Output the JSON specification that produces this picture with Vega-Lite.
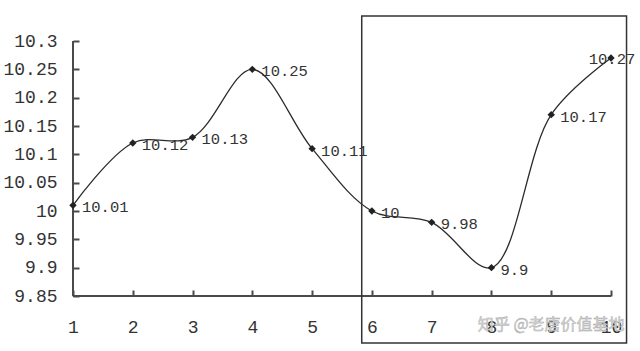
{
  "$schema": "https://vega.github.io/schema/vega-lite/v6.json",
  "autosize": {"type": "none"},
  "width": 538,
  "height": 255,
  "padding": {"left": 73, "top": 41, "right": 29, "bottom": 55},
  "background": "white",
  "datasets": {
    "series": [
      {"period": 1, "value": 10.01},
      {"period": 2, "value": 10.12},
      {"period": 3, "value": 10.13},
      {"period": 4, "value": 10.25},
      {"period": 5, "value": 10.11},
      {"period": 6, "value": 10.0},
      {"period": 7, "value": 9.98},
      {"period": 8, "value": 9.9},
      {"period": 9, "value": 10.17},
      {"period": 10, "value": 10.27}
    ],
    "highlight": [
      {"from": 5.83, "to": 10.26, "low": 9.767, "high": 10.344}
    ],
    "credit": [
      {"period": 9.0, "value": 9.798, "label": "知乎 @老唐价值基地"}
    ]
  },
  "config": {
    "view": {"stroke": null},
    "axis": {
      "labelFont": "Liberation Mono",
      "labelFontSize": 18,
      "labelColor": "#333333",
      "labelBound": false,
      "labelFlush": false,
      "domain": false,
      "tickColor": "#4a4a4a",
      "tickWidth": 2,
      "tickSize": 6,
      "offset": -6,
      "grid": false,
      "title": null
    }
  },
  "layer": [
    {
      "data": {"name": "series"},
      "mark": {"type": "line", "interpolate": "catmull-rom", "color": "#2b2b2b", "strokeWidth": 1.3},
      "encoding": {
        "x": {
          "field": "period", "type": "quantitative",
          "scale": {"domain": [1, 10], "nice": false, "zero": false},
          "axis": {"tickCount": 10, "format": "d", "labelPadding": 22, "labelOverlap": false}
        },
        "y": {
          "field": "value", "type": "quantitative",
          "scale": {"domain": [9.85, 10.3], "nice": false, "zero": false},
          "axis": {"tickCount": 10, "labelExpr": "format(datum.value, '.2~f')", "labelPadding": 16, "labelOverlap": false, "labelSeparation": 0}
        }
      }
    },
    {
      "data": {"values": [{}]},
      "mark": {"type": "rule", "color": "#4a4a4a", "strokeWidth": 2},
      "encoding": {"x": {"datum": 1}}
    },
    {
      "data": {"values": [{}]},
      "mark": {"type": "rule", "color": "#4a4a4a", "strokeWidth": 2},
      "encoding": {"y": {"datum": 9.85}}
    },
    {
      "data": {"name": "series"},
      "mark": {"type": "point", "shape": "diamond", "filled": true, "color": "#222222", "size": 55, "opacity": 1},
      "encoding": {
        "x": {"field": "period", "type": "quantitative"},
        "y": {"field": "value", "type": "quantitative"}
      }
    },
    {
      "data": {"name": "series"},
      "transform": [{"filter": "datum.period < 10"}],
      "mark": {"type": "text", "align": "left", "baseline": "middle", "dx": 9, "dy": 2, "font": "Liberation Mono", "fontSize": 15.5, "color": "#333333"},
      "encoding": {
        "x": {"field": "period", "type": "quantitative"},
        "y": {"field": "value", "type": "quantitative"},
        "text": {"field": "value", "type": "quantitative", "format": ".2~f"}
      }
    },
    {
      "data": {"name": "series"},
      "transform": [{"filter": "datum.period == 10"}],
      "mark": {"type": "text", "align": "center", "baseline": "middle", "dx": 1, "dy": 1, "font": "Liberation Mono", "fontSize": 15.5, "color": "#333333"},
      "encoding": {
        "x": {"field": "period", "type": "quantitative"},
        "y": {"field": "value", "type": "quantitative"},
        "text": {"field": "value", "type": "quantitative", "format": ".2~f"}
      }
    },
    {
      "data": {"name": "highlight"},
      "mark": {"type": "rect", "fill": null, "stroke": "#333333", "strokeWidth": 1.5, "clip": false},
      "encoding": {
        "x": {"field": "from", "type": "quantitative"},
        "x2": {"field": "to"},
        "y": {"field": "low", "type": "quantitative"},
        "y2": {"field": "high"}
      }
    },
    {
      "data": {"name": "credit"},
      "mark": {"type": "text", "align": "center", "baseline": "middle", "font": "Noto Sans CJK SC", "fontSize": 16, "color": "#d6d6d6", "stroke": "#a8a8a8", "strokeWidth": 0.4, "clip": false},
      "encoding": {
        "x": {"field": "period", "type": "quantitative"},
        "y": {"field": "value", "type": "quantitative"},
        "text": {"field": "label"}
      }
    }
  ]
}
